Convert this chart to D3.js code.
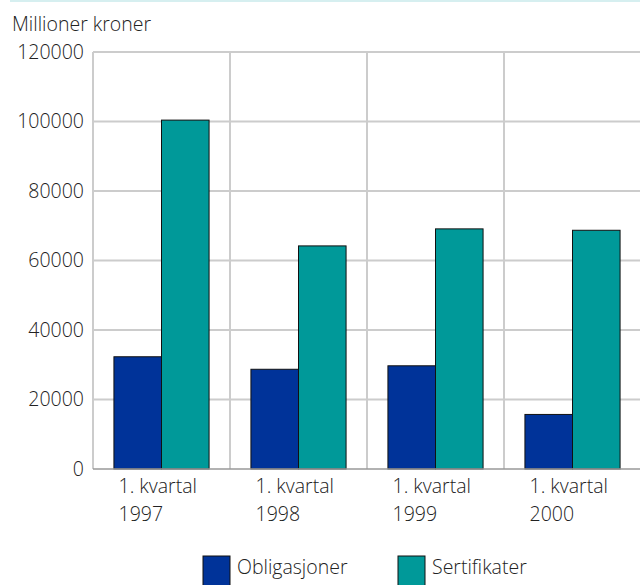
<!DOCTYPE html>
<html lang="no">
<head>
  <meta charset="utf-8">
  <title>Millioner kroner</title>
  <script src="https://d3js.org/d3.v7.min.js"></script>
  <style>
    body { margin: 0; background: #fff; }
    text { font-family: "Open Sans", "Noto Sans", sans-serif; font-weight: 300; fill: #222; }
  </style>
</head>
<body>
  <div id="chart"></div>
  <script>
    // data
    var periods = ["1. kvartal|1997", "1. kvartal|1998", "1. kvartal|1999", "1. kvartal|2000"];
    var seriesNames = ["Obligasjoner", "Sertifikater"];
    var obligasjoner = [32300, 28700, 29700, 15700];
    var sertifikater = [100400, 64200, 69100, 68700];
    var yTicks = [0, 20000, 40000, 60000, 80000, 100000, 120000];
    var colors = ["#003399", "#009999"];

    var W = 640, H = 585;
    var fs = "19.5px";
    var margin = {top: 52, right: -1, bottom: 116, left: 93},
        width = W - margin.left - margin.right,
        height = H - margin.top - margin.bottom;

    var svg = d3.select("#chart").append("svg")
        .attr("width", W)
        .attr("height", H);

    // thin line on top
    svg.append("rect")
        .attr("x", 10).attr("y", 0)
        .attr("width", W - 10).attr("height", 2)
        .attr("fill", "#d6eff0");

    svg.append("text")
        .attr("x", 12).attr("y", 31)
        .style("font-size", fs)
        .text("Millioner kroner");

    var g = svg.append("g")
        .attr("transform", `translate(${margin.left}, ${margin.top})`);

    var x = d3.scaleBand()
        .domain(periods)
        .range([0, width]);

    var x1 = d3.scaleBand()
        .domain(seriesNames)
        .range([0, x.bandwidth()])
        .paddingOuter(0.44);

    var y = d3.scaleLinear()
        .domain([0, 120000])
        .range([height, 0]);

    // grid
    g.append("g").selectAll("line.h")
        .data(yTicks.filter(function(d) { return d > 0; }))
        .enter().append("line")
        .attr("x1", 0).attr("x2", width)
        .attr("y1", function(d) { return y(d); })
        .attr("y2", function(d) { return y(d); })
        .attr("stroke", "#cccccc")
        .attr("stroke-width", 2);

    g.append("g").selectAll("line.v")
        .data(periods)
        .enter().append("line")
        .attr("x1", function(d) { return x(d) + x.bandwidth(); })
        .attr("x2", function(d) { return x(d) + x.bandwidth(); })
        .attr("y1", 0).attr("y2", height)
        .attr("stroke", "#cccccc")
        .attr("stroke-width", 2);

    g.append("line")
        .attr("x1", 0).attr("x2", 0)
        .attr("y1", 0).attr("y2", height)
        .attr("stroke", "#cccccc")
        .attr("stroke-width", 2);

    // bars
    var values = [obligasjoner, sertifikater];
    seriesNames.forEach(function(s, si) {
        g.append("g").selectAll("rect")
            .data(periods)
            .enter().append("rect")
            .attr("x", function(d) { return x(d) + x1(s); })
            .attr("y", function(d, i) { return y(values[si][i]); })
            .attr("width", x1.bandwidth())
            .attr("height", function(d, i) { return height - y(values[si][i]); })
            .attr("fill", colors[si])
            .attr("stroke", "#111")
            .attr("stroke-width", 1);
    });

    // baseline
    g.append("line")
        .attr("x1", 0).attr("x2", width)
        .attr("y1", height).attr("y2", height)
        .attr("stroke", "#999")
        .attr("stroke-width", 1.5);

    // y labels
    g.append("g").selectAll("text")
        .data(yTicks)
        .enter().append("text")
        .attr("x", -9)
        .attr("y", function(d) { return y(d); })
        .attr("dy", "0.35em")
        .attr("text-anchor", "end")
        .style("font-size", fs)
        .text(function(d) { return d; });

    // x labels (two lines, left aligned)
    var xl = g.append("g").selectAll("text")
        .data(periods)
        .enter().append("text")
        .attr("x", function(d) { return x(d) + x.bandwidth() / 2 - 43; })
        .attr("y", height + 24)
        .style("font-size", fs);
    xl.append("tspan")
        .attr("x", function(d) { return x(d) + x.bandwidth() / 2 - 43; })
        .text(function(d) { return d.split("|")[0]; });
    xl.append("tspan")
        .attr("x", function(d) { return x(d) + x.bandwidth() / 2 - 43; })
        .attr("dy", 28)
        .text(function(d) { return d.split("|")[1]; });

    // legend
    var legX = [203, 398];
    var leg = svg.append("g").selectAll("g")
        .data(seriesNames)
        .enter().append("g")
        .attr("transform", function(d, i) { return `translate(${legX[i]}, 556)`; });
    leg.append("rect")
        .attr("width", 27).attr("height", 32)
        .attr("fill", function(d, i) { return colors[i]; })
        .attr("stroke", "#111")
        .attr("stroke-width", 1);
    leg.append("text")
        .attr("x", 34).attr("y", 18)
        .style("font-size", fs)
        .text(function(d) { return d; });
  </script>
</body>
</html>
